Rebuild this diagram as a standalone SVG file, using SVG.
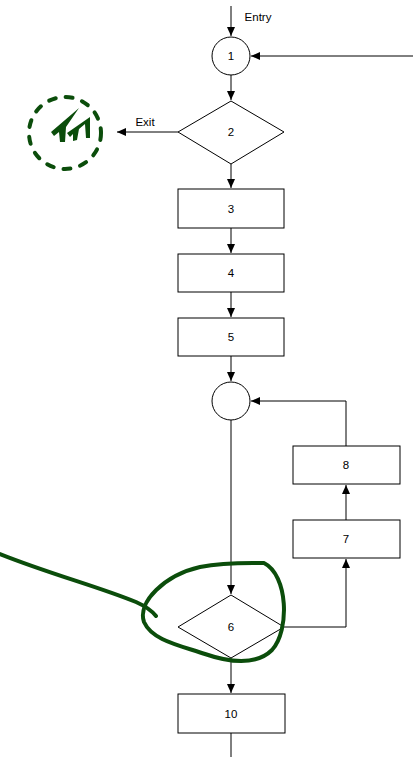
<svg xmlns="http://www.w3.org/2000/svg" width="413" height="757" viewBox="0 0 413 757">
<style>
.n{fill:#fff;stroke:#000;stroke-width:1}
.c{fill:none;stroke:#000;stroke-width:1}
.t{font-family:"Liberation Sans",Arial,sans-serif;font-size:11.5px;fill:#000;text-anchor:middle;dominant-baseline:central}
.g{fill:none;stroke:#0b4d0b;stroke-width:4;stroke-linecap:round;stroke-linejoin:round}
.gf{fill:#0b4d0b;stroke:none}
</style>
<defs>
<marker id="a" markerWidth="10" markerHeight="10" refX="9" refY="5" orient="auto" markerUnits="userSpaceOnUse">
<path d="M0,1 L9,5 L0,9 Z" fill="#000"/>
</marker>
</defs>
<rect width="413" height="757" fill="#fff"/>
<g id="connectors">
<line class="c" x1="231" y1="6" x2="231" y2="36" marker-end="url(#a)"/>
<line class="c" x1="413" y1="56" x2="251" y2="56" marker-end="url(#a)"/>
<line class="c" x1="231" y1="75" x2="231" y2="100" marker-end="url(#a)"/>
<line class="c" x1="178" y1="132" x2="117" y2="132" marker-end="url(#a)"/>
<line class="c" x1="231" y1="164" x2="231" y2="188" marker-end="url(#a)"/>
<line class="c" x1="231" y1="228" x2="231" y2="253" marker-end="url(#a)"/>
<line class="c" x1="231" y1="292" x2="231" y2="317" marker-end="url(#a)"/>
<line class="c" x1="231" y1="356" x2="231" y2="381" marker-end="url(#a)"/>
<line class="c" x1="231" y1="420" x2="231" y2="594" marker-end="url(#a)"/>
<polyline class="c" points="284,627 346,627 346,559" marker-end="url(#a)"/>
<line class="c" x1="346" y1="520" x2="346" y2="485" marker-end="url(#a)"/>
<polyline class="c" points="346,446 346,401 251,401" marker-end="url(#a)"/>
<line class="c" x1="231" y1="658" x2="231" y2="693" marker-end="url(#a)"/>
<line class="c" x1="231" y1="733" x2="231" y2="757"/>
<text class="t" x="258" y="17">Entry</text>
<text class="t" x="145" y="122">Exit</text>
</g>
<g id="n1"><circle class="n" cx="231" cy="56" r="19"/><text class="t" x="231" y="56">1</text></g>
<g id="n2"><polygon class="n" points="231,101 284,132 231,164 178,132"/><text class="t" x="231" y="132">2</text></g>
<g id="n3"><rect class="n" x="178" y="189" width="106" height="39"/><text class="t" x="231" y="209">3</text></g>
<g id="n4"><rect class="n" x="178" y="254" width="106" height="38"/><text class="t" x="231" y="273">4</text></g>
<g id="n5"><rect class="n" x="178" y="318" width="106" height="38"/><text class="t" x="231" y="337">5</text></g>
<g id="j"><circle class="n" cx="231" cy="401" r="19"/></g>
<g id="n8"><rect class="n" x="293" y="446" width="107" height="38"/><text class="t" x="346" y="465">8</text></g>
<g id="n7"><rect class="n" x="293" y="520" width="107" height="38"/><text class="t" x="346" y="539">7</text></g>
<g id="n6"><polygon class="n" points="231,595 284,627 231,658 178,627"/><text class="t" x="231" y="627">6</text></g>
<g id="n10"><rect class="n" x="178" y="694" width="107" height="39"/><text class="t" x="231" y="714">10</text></g>
<g id="annotations">
<path class="g" d="M0,554 C50,574 100,587 136,602 C145,606 152,611 156,616"/>
<path class="g" d="M264,563 C288,575 290,630 272,650 C256,666 228,662 205,654 C178,645 152,640 144,622 C137,602 165,575 200,567 C225,562 250,563 264,563"/>
<circle class="g" cx="65" cy="133" r="36" stroke-dasharray="7 10"/>
<path class="gf" d="M79,108 L51,132 L54,136 L59,132 L60,142 L65,142 L66,127 Z"/>
<path class="gf" d="M90,117 L67,133 L70,137 L73,134 L73,141 L77,140 L79,129 L85,124 L86,138 L90,138 Z"/>
</g>
</svg>
